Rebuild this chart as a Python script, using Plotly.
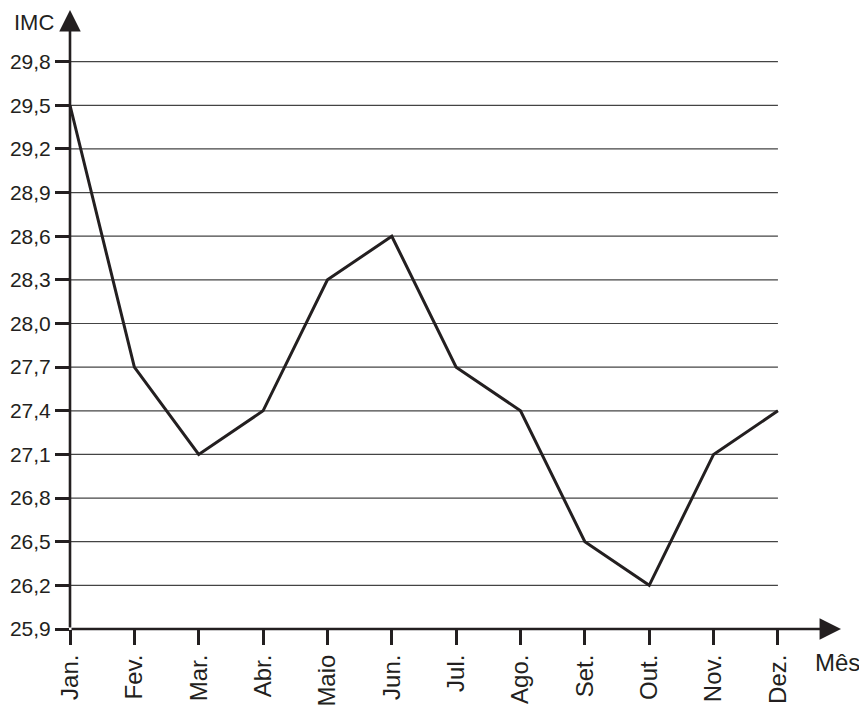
import plotly.graph_objects as go

months = ["Jan.", "Fev.", "Mar.", "Abr.", "Maio", "Jun.", "Jul.", "Ago.", "Set.", "Out.", "Nov.", "Dez."]
imc = [29.5, 27.7, 27.1, 27.4, 28.3, 28.6, 27.7, 27.4, 26.5, 26.2, 27.1, 27.4]
y_ticks = [25.9, 26.2, 26.5, 26.8, 27.1, 27.4, 27.7, 28.0, 28.3, 28.6, 28.9, 29.2, 29.5, 29.8]
y_ticktext = ["25,9", "26,2", "26,5", "26,8", "27,1", "27,4", "27,7", "28,0", "28,3", "28,6", "28,9", "29,2", "29,5", "29,8"]

INK = "#231f20"
FONT = "Liberation Sans, Arial, sans-serif"
FS = 24
FS_Y = 21

fig = go.Figure()
fig.add_trace(go.Scatter(
    x=months, y=imc, mode="lines",
    line=dict(color=INK, width=3), cliponaxis=False, hoverinfo="skip",
))

# horizontal gridlines stopping at the last month
for v in y_ticks[1:]:
    fig.add_shape(type="line", xref="x", yref="y", x0=0, x1=len(months) - 1, y0=v, y1=v,
                  line=dict(color="#444444", width=1.2), layer="below")

y_min = y_ticks[0]
y_top = 30.155
x_end = 11.98

# axis arrows
fig.add_annotation(x=0, y=y_top, ax=0, ay=y_min, xref="x", yref="y", axref="x", ayref="y",
                   showarrow=True, arrowhead=2, arrowsize=1.65, arrowwidth=2.6, arrowcolor=INK, text="")
fig.add_annotation(x=x_end, y=y_min, ax=0, ay=y_min, xref="x", yref="y", axref="x", ayref="y",
                   showarrow=True, arrowhead=2, arrowsize=1.65, arrowwidth=2.6, arrowcolor=INK, text="")

fig.add_annotation(text="IMC", xref="paper", yref="paper", x=0, y=1.0, xanchor="right", yanchor="top",
                   xshift=-14, yshift=2,
                   showarrow=False, font=dict(family=FONT, size=22, color=INK))
fig.add_annotation(text="Mês", xref="paper", yref="paper", x=1.0, y=0, xanchor="center", yanchor="middle",
                   xshift=-4, yshift=-33,
                   showarrow=False, font=dict(family=FONT, size=FS, color=INK))

fig.update_layout(
    width=859, height=714,
    margin=dict(l=62, r=26, t=2, b=93, autoexpand=False),
    paper_bgcolor="white", plot_bgcolor="white",
    showlegend=False,
    font=dict(family=FONT, size=FS, color=INK),
)
fig.update_xaxes(
    type="category", range=[0, x_end], showgrid=False, zeroline=False, automargin=False,
    showline=False, ticks="outside", ticklen=15, tickwidth=2.6, tickcolor=INK,
    tickangle=-90, tickfont=dict(family=FONT, size=FS, color=INK),
)
fig.update_yaxes(
    range=[y_min, y_top], showgrid=False, zeroline=False, showline=False, automargin=False,
    tickvals=y_ticks, ticktext=y_ticktext,
    ticks="outside", ticklen=14, tickwidth=2.6, tickcolor=INK,
    tickfont=dict(family=FONT, size=FS_Y, color=INK),
)

fig.write_html("out.html")
